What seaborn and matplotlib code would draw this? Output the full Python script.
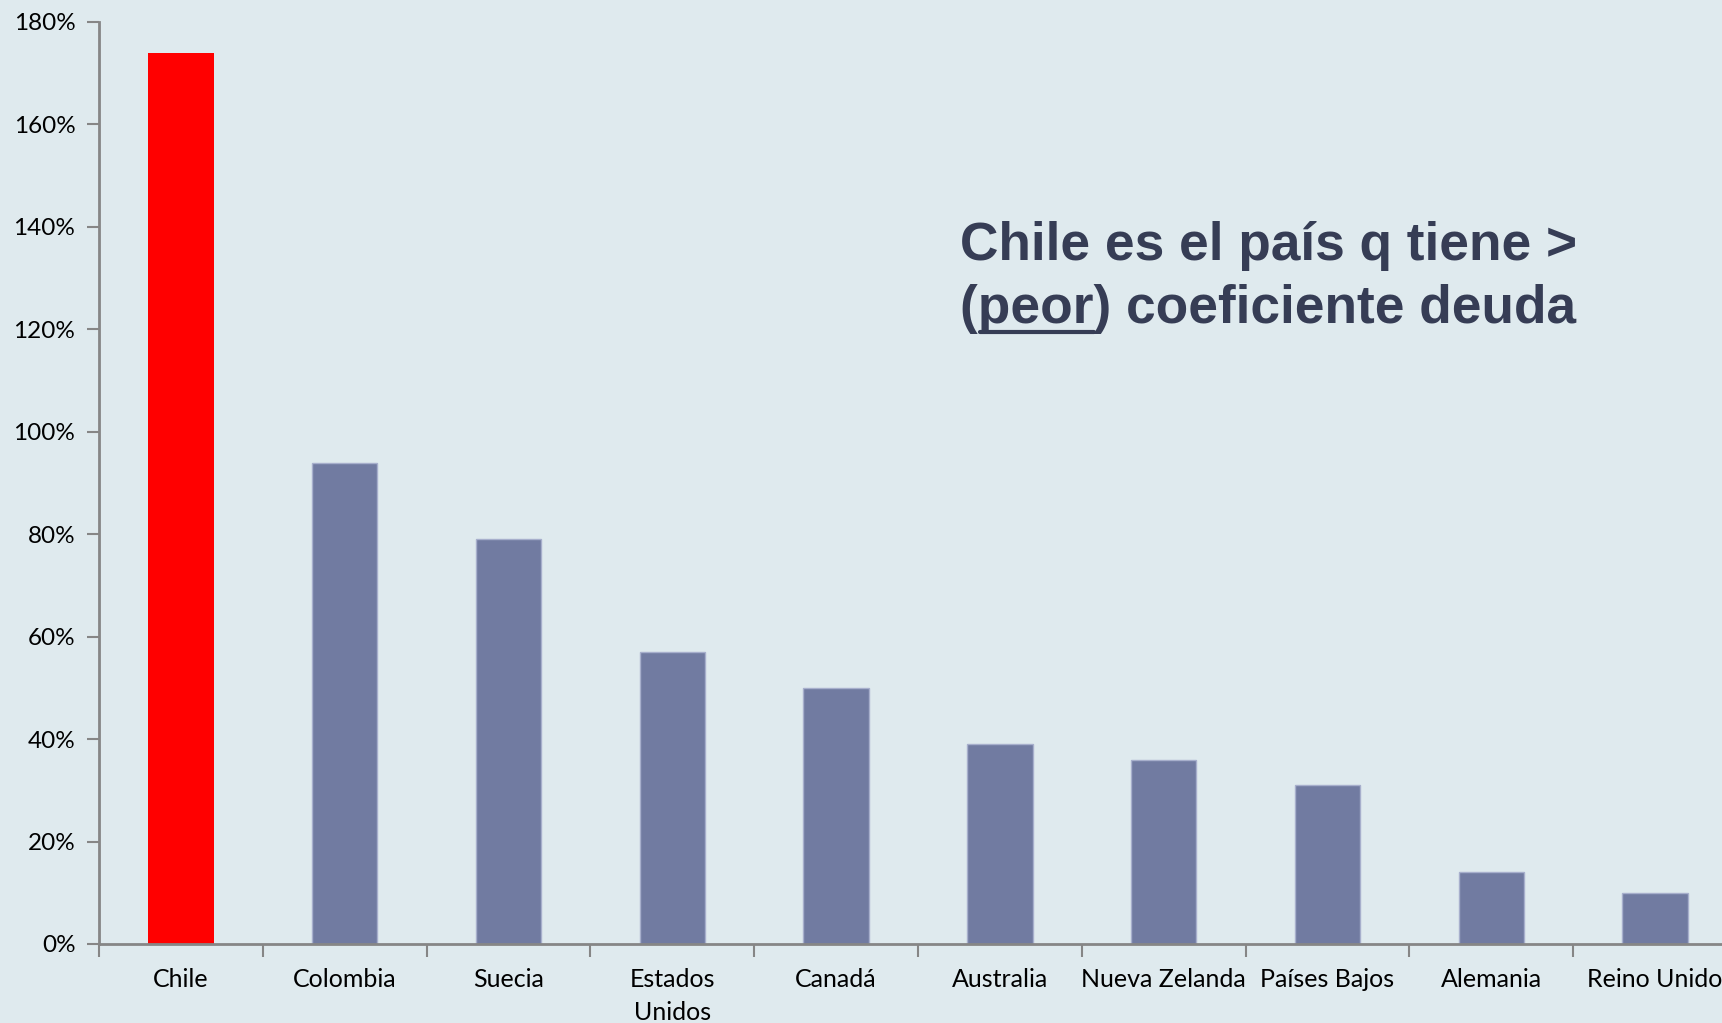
import matplotlib
matplotlib.use("Agg")
import matplotlib.pyplot as plt
import seaborn as sns
import pandas as pd
from matplotlib.lines import Line2D
from matplotlib.ticker import FuncFormatter, FixedLocator

# Data
countries = ["Chile", "Colombia", "Suecia", "Estados\nUnidos", "Canadá",
             "Australia", "Nueva Zelanda", "Países Bajos", "Alemania", "Reino Unido"]
debt_ratio = [174, 94, 79, 57, 50, 39, 36, 31, 14, 10]
bar_colors = ["#FF0000"] + ["#717BA1"] * 9

BG = "#DFEAEE"
AXIS_GRAY = "#868686"
TEXT_DARK = "#363D55"

sns.set_theme(style="white")
plt.rcParams["font.family"] = ["Lato", "DejaVu Sans"]

df = pd.DataFrame({"pais": countries, "coef": debt_ratio})

fig = plt.figure(figsize=(17.22, 10.23), dpi=100, facecolor=BG)
ax = fig.add_axes([99 / 1722, 79 / 1023, (1737 - 99) / 1722, 922 / 1023])
ax.set_facecolor(BG)

sns.barplot(data=df, x="pais", y="coef", hue="pais", palette=bar_colors,
            legend=False, width=0.4, saturation=1, ax=ax)
for i, patch in enumerate(ax.patches):
    if i == 0:
        patch.set_edgecolor("none")
    else:
        patch.set_edgecolor("#A7AFCC")
        patch.set_linewidth(1)

ax.set_xlim(-0.5, len(countries) - 0.5)
ax.set_ylim(0, 180)
ax.set_yticks(range(0, 181, 20))
ax.yaxis.set_major_formatter(FuncFormatter(lambda v, p: f"{v:.0f}%"))
ax.set_xlabel("")
ax.set_ylabel("")

# tick marks sit between categories, labels at the centres
ax.xaxis.set_minor_locator(FixedLocator([i - 0.5 for i in range(len(countries) + 1)]))
ax.tick_params(axis="x", which="major", length=0, pad=17.5, labelsize=18, labelcolor="black")
ax.tick_params(axis="x", which="minor", bottom=True, length=9, width=1.5, color=AXIS_GRAY)
ax.tick_params(axis="y", which="major", left=True, length=9, width=1.5, color=AXIS_GRAY,
               pad=8, labelsize=17.5, labelcolor="black")
for lbl in ax.get_xticklabels():
    lbl.set_linespacing(1.5)

sns.despine(ax=ax, top=True, right=True)
for side in ["left", "bottom"]:
    ax.spines[side].set_color(AXIS_GRAY)
    ax.spines[side].set_linewidth(2)

# annotation, with "peor" underlined
W, H = 1722, 1023
x0 = 960 / W
line1_y = 1 - 260 / H
line2_y = 1 - 323 / H
font_kw = dict(family=["Liberation Sans", "DejaVu Sans"], fontsize=38.3,
               fontweight="bold", color=TEXT_DARK, va="baseline", ha="left")
fig.text(x0, line1_y, "Chile es el país q tiene >", **font_kw)
fig.text(x0, line2_y, "(peor) coeficiente deuda", **font_kw)

fig.canvas.draw()
renderer = fig.canvas.get_renderer()
t_a = fig.text(x0, line2_y, "(", **font_kw)
t_b = fig.text(x0, line2_y, "(peor", **font_kw)
x_start = t_a.get_window_extent(renderer).x1 / W
x_end = t_b.get_window_extent(renderer).x1 / W
t_a.remove()
t_b.remove()
under_y = line2_y - 9 / H
fig.add_artist(Line2D([x_start + 2 / W, x_end], [under_y, under_y],
                      transform=fig.transFigure, color=TEXT_DARK, linewidth=3))

fig.savefig("out.png", dpi=100, facecolor=BG)
